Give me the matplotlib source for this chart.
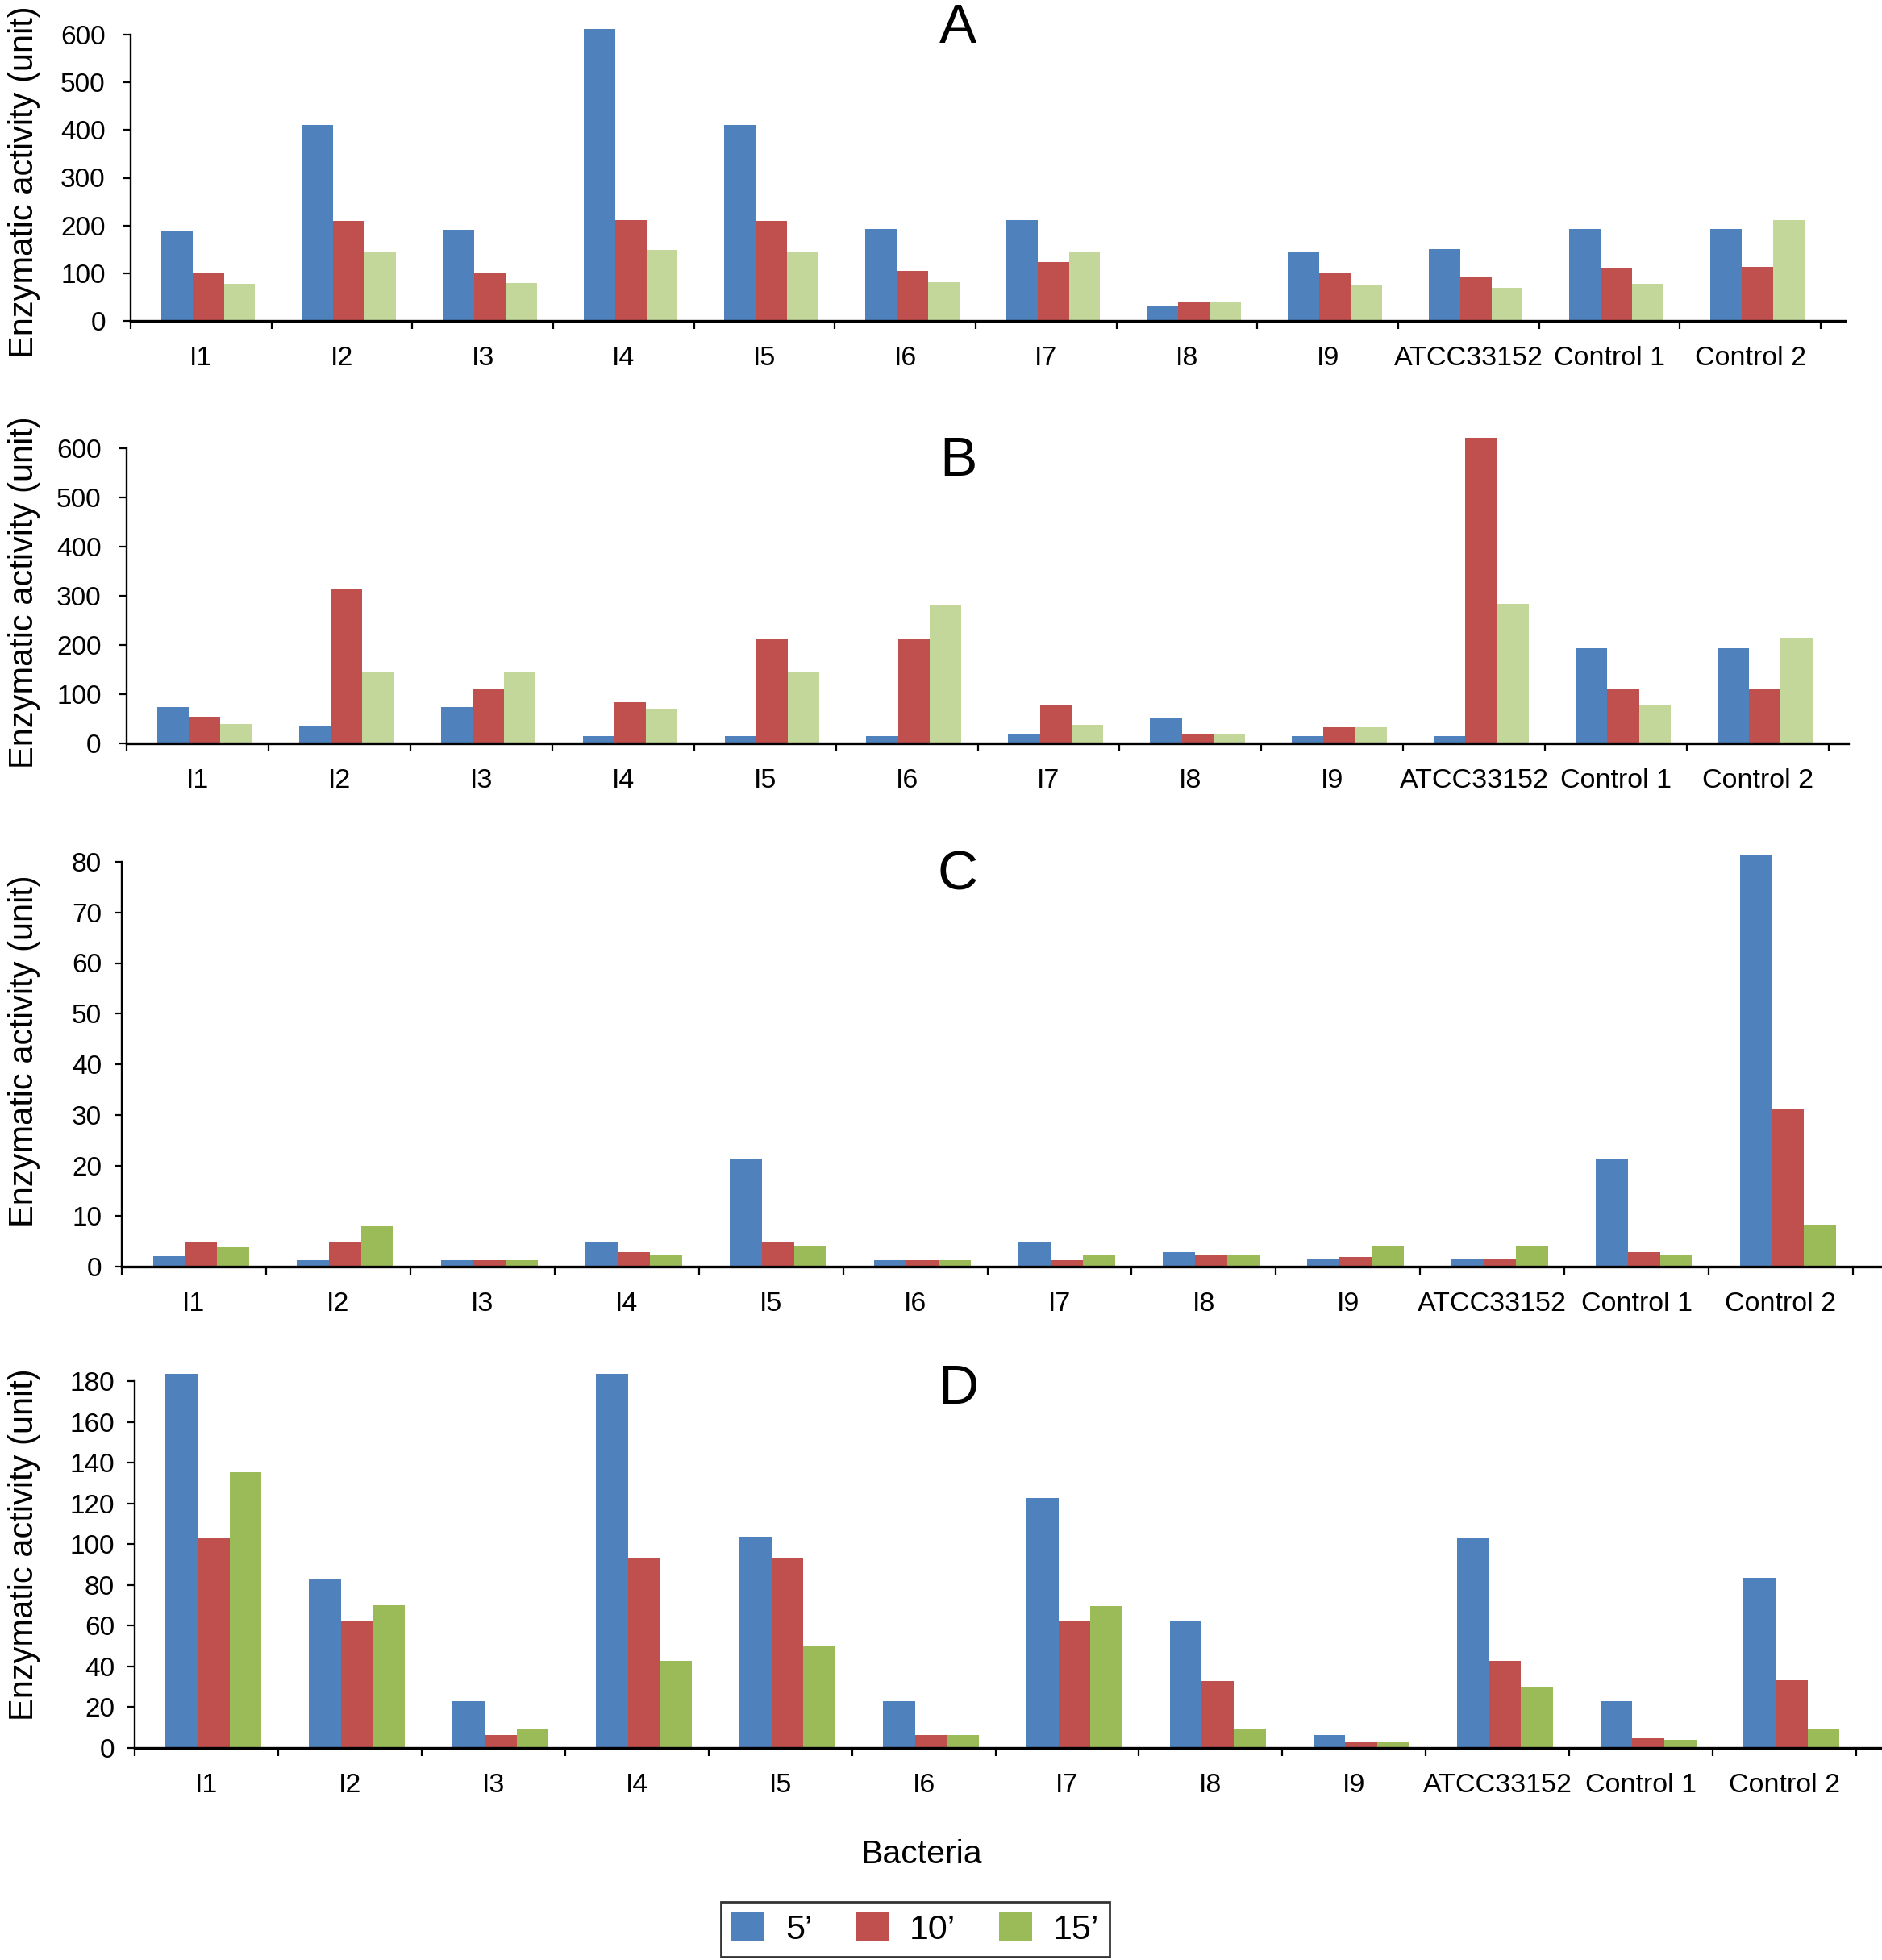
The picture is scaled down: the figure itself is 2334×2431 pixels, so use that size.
import numpy as np
import matplotlib
matplotlib.use("Agg")
import matplotlib.pyplot as plt
from matplotlib.patches import Patch

plt.rcParams["font.family"] = ["Liberation Sans", "DejaVu Sans"]

# ---------------------------------------------------------------------------
# Data
# ---------------------------------------------------------------------------
bacteria = ["I1", "I2", "I3", "I4", "I5", "I6", "I7", "I8", "I9",
            "ATCC33152", "Control 1", "Control 2"]
times = ["5\u2019", "10\u2019", "15\u2019"]

a_5min = [190, 411, 191, 611, 410, 193, 211, 31, 146, 150, 193, 193]
a_10min = [101, 210, 102, 212, 210, 104, 123, 39, 99, 93, 112, 113]
a_15min = [77, 146, 79, 148, 145, 81, 145, 39, 75, 70, 78, 211]

b_5min = [73, 35, 73, 15, 15, 15, 20, 50, 15, 15, 193, 193]
b_10min = [54, 314, 111, 83, 212, 212, 79, 20, 33, 621, 111, 111]
b_15min = [39, 146, 146, 71, 146, 280, 38, 20, 33, 283, 79, 215]

c_5min = [2.1, 1.3, 1.3, 4.9, 21.2, 1.3, 4.9, 2.8, 1.4, 1.4, 21.4, 81.4]
c_10min = [4.9, 4.9, 1.3, 2.8, 4.9, 1.3, 1.3, 2.3, 1.9, 1.4, 2.8, 31.0]
c_15min = [3.8, 8.1, 1.3, 2.3, 4.0, 1.3, 2.3, 2.3, 4.0, 4.0, 2.4, 8.3]

d_5min = [183.5, 83.2, 23, 183.5, 103.5, 23, 122.6, 62.7, 6.5, 102.8, 23, 83.3]
d_10min = [103, 62, 6.5, 93, 93, 6.5, 62.7, 32.9, 3, 42.6, 4.9, 33.2]
d_15min = [135.4, 70, 9.3, 42.6, 50, 6.5, 69.8, 9.3, 3, 29.7, 4, 9.3]

panel_letters = ["A", "B", "C", "D"]
panel_ymax = [600, 600, 80, 180]
panel_ystep = [100, 100, 10, 20]

# ---------------------------------------------------------------------------
# Styling / layout (pixels of the 2334 x 2431 canvas)
# ---------------------------------------------------------------------------
W, H, DPI = 2334, 2431, 100
BLUE, RED = "#4f81bd", "#c0504d"
GREEN_LIGHT, GREEN = "#c4d79b", "#9bbb59"

# left spine, last tick, y of zero, y of top tick, axis overhang,
# letter y, ylabel y, ytick pad
layout = [
    (162, 2258, 398, 43, 30, 35, 226, 16),
    (157, 2268, 922, 556, 24, 572, 735, 16),
    (151, 2298, 1571, 1069, 36, 1086, 1304, 11.5),
    (167, 2302, 2168, 1713, 32, 1723, 1916, 11.5),
]
series = [
    (a_5min, a_10min, a_15min, GREEN_LIGHT),
    (b_5min, b_10min, b_15min, GREEN_LIGHT),
    (c_5min, c_10min, c_15min, GREEN),
    (d_5min, d_10min, d_15min, GREEN),
]

fig = plt.figure(figsize=(W / DPI, H / DPI), dpi=DPI)

x = np.arange(len(bacteria))
bar_w = 0.223
offset = 0.05

for i, (vals, lay) in enumerate(zip(series, layout)):
    s5, s10, s15, gcol = vals
    left, last_tick, y0, ytop, ext, letter_y, label_y, ypad = lay
    cat_w = (last_tick - left) / len(bacteria)
    ax = fig.add_axes([left / W, 1 - y0 / H,
                       (last_tick + ext - left) / W, (y0 - ytop) / H])

    for k, (vs, col) in enumerate(zip((s5, s10, s15), (BLUE, RED, gcol))):
        ax.bar(x + offset + (k - 1) * bar_w, vs, width=bar_w, color=col,
               linewidth=0, clip_on=False)

    ax.set_xlim(-0.5, len(bacteria) - 0.5 + ext / cat_w)
    ax.set_ylim(0, panel_ymax[i])
    ax.set_yticks(np.arange(0, panel_ymax[i] + 1, panel_ystep[i]))
    ax.set_xticks(x)
    ax.set_xticklabels(bacteria)
    ax.set_xticks(np.arange(-0.5, len(bacteria)), minor=True)

    for side in ("top", "right"):
        ax.spines[side].set_visible(False)
    ax.spines["left"].set_linewidth(1.7)
    ax.spines["bottom"].set_linewidth(2.4)

    ax.tick_params(axis="x", which="major", length=0, pad=22, labelsize=24.5)
    ax.tick_params(axis="x", which="minor", length=7, width=1.6,
                   direction="out")
    ax.tick_params(axis="y", length=6.5, width=1.6, direction="out",
                   pad=ypad, labelsize=24)

    fig.text(1188 / W, 1 - letter_y / H, panel_letters[i], fontsize=50,
             ha="center", va="center")
    fig.text(30 / W, 1 - label_y / H, "Enzymatic activity (unit)",
             fontsize=30, rotation=90, ha="center", va="center")

fig.text(1143 / W, 1 - 2300 / H, "Bacteria", fontsize=29.5,
         ha="center", va="center")

handles = [Patch(facecolor=c, edgecolor="none") for c in (BLUE, RED, GREEN)]
leg = fig.legend(handles, times, ncol=3, loc="center",
                 bbox_to_anchor=(1135 / W, 1 - 2393 / H),
                 fontsize=31, frameon=True, fancybox=False,
                 handlelength=0.95, handleheight=0.9, handletextpad=0.6,
                 columnspacing=1.25, borderpad=0.3)
leg.get_frame().set_edgecolor("black")
leg.get_frame().set_linewidth(2)

fig.savefig("out.png", dpi=DPI, facecolor="white")
